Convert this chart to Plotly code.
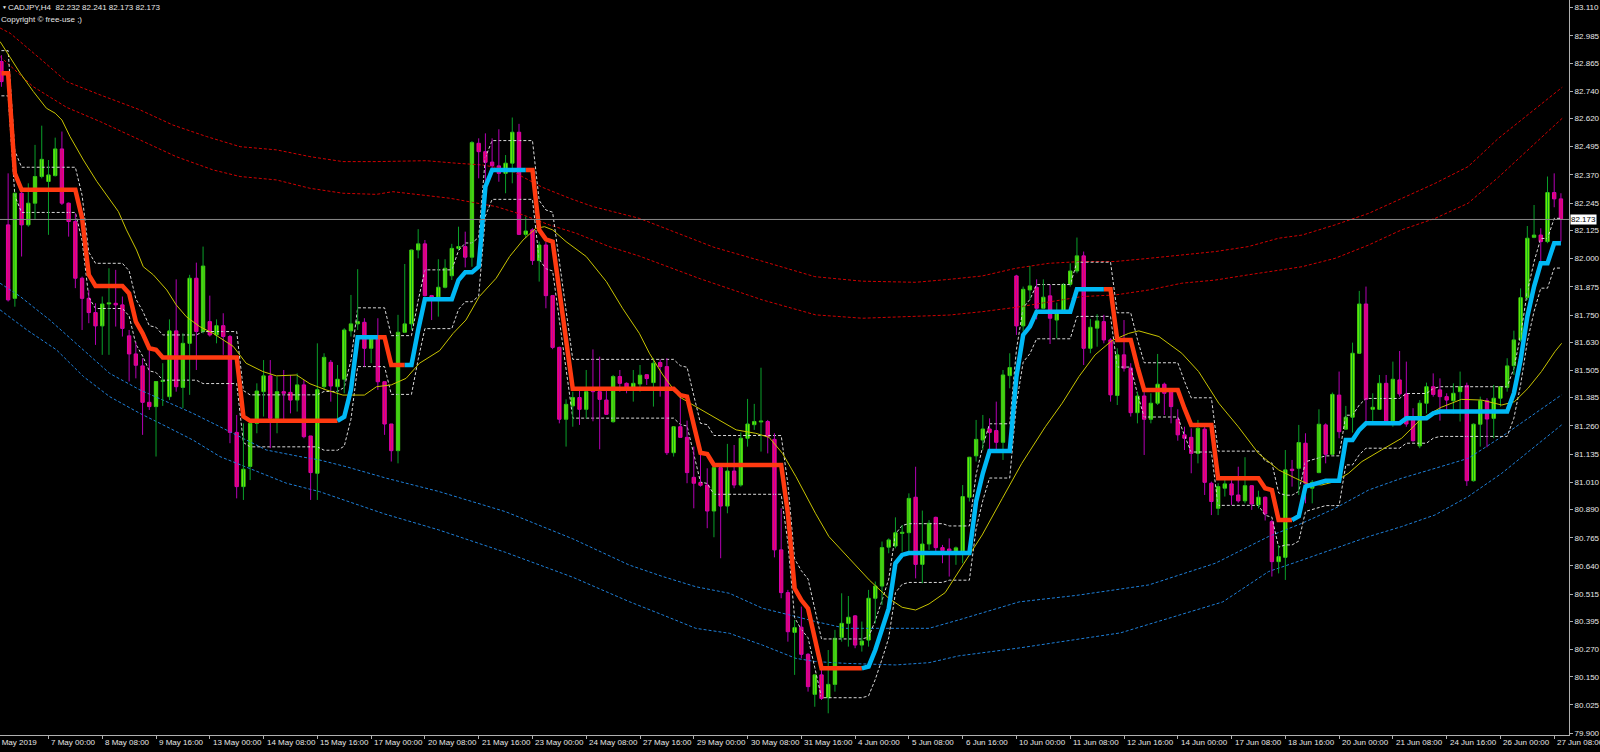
import plotly.graph_objects as go

# ---------------- data (CADJPY H4, bar index 0 = 3 May 2019 20:00) ----------------
open_ = [82.872,82.149,81.824,82.289,82.149,82.245,82.363,82.341,82.367,82.485,
         82.245,82.164,81.913,81.824,81.761,81.702,81.799,81.802,81.795,81.658,
         81.578,81.525,81.364,81.345,81.456,81.389,81.680,81.430,81.625,81.913,
         81.677,81.721,81.662,81.703,81.655,81.231,80.991,81.080,81.271,81.411,
         81.481,81.293,81.411,81.408,81.374,81.441,81.215,81.050,81.433,81.541,
         81.433,81.466,81.680,81.711,81.718,81.603,81.655,81.455,81.268,81.150,
         81.674,81.711,82.038,82.065,81.836,81.829,81.873,81.924,82.045,82.053,
         82.006,82.510,82.473,82.427,82.410,82.377,82.422,82.559,82.107,82.127,
         81.991,82.060,81.836,81.607,81.289,81.348,81.385,81.333,81.419,81.411,
         81.374,81.278,81.478,81.448,81.426,81.445,81.486,81.451,81.540,81.522,
         81.141,81.256,81.209,81.032,81.009,80.998,80.883,81.075,80.905,81.060,
         80.998,81.205,81.265,81.277,81.279,81.200,80.711,80.522,80.346,80.369,
         80.249,80.072,80.158,80.057,80.116,80.324,80.386,80.419,80.290,80.312,
         80.497,80.551,80.723,80.728,80.784,80.787,80.944,80.647,80.737,80.855,
         80.721,80.715,80.700,80.696,80.944,81.127,81.197,81.246,81.239,81.187,
         81.482,81.923,81.702,81.861,81.873,81.780,81.835,81.728,81.770,81.886,
         81.945,82.012,81.603,81.692,81.721,81.640,81.394,81.574,81.515,81.318,
         81.392,81.289,81.360,81.444,81.411,81.289,81.220,81.209,81.138,81.245,
         81.006,80.895,80.984,81.003,80.954,80.928,80.995,80.910,80.944,80.836,
         80.659,80.678,81.068,81.072,81.183,80.984,81.053,81.264,81.134,81.396,
         81.245,81.298,81.581,81.799,81.333,81.333,81.448,81.271,81.463,81.401,
         81.301,81.171,81.360,81.433,81.419,81.389,81.371,81.411,81.438,81.017,
         81.267,81.371,81.293,81.382,81.430,81.526,81.640,81.827,82.094,82.104,
         82.075,82.292,82.264]
high = [82.900,82.377,82.292,82.296,82.333,82.503,82.588,82.436,82.535,82.562,
        82.248,82.200,81.920,81.861,81.802,81.832,81.957,81.950,81.832,81.684,
        81.632,81.559,81.603,81.456,81.537,81.731,81.908,81.669,81.928,81.982,
        82.053,81.836,81.731,81.758,81.662,81.308,81.271,81.279,81.448,81.551,
        81.551,81.478,81.507,81.485,81.492,81.463,81.215,81.625,81.581,81.551,
        81.529,81.692,81.839,81.953,81.736,81.662,81.736,81.455,81.268,81.751,
        81.976,82.038,82.130,82.082,81.839,81.997,81.997,82.065,82.141,82.119,
        82.520,82.532,82.554,82.532,82.572,82.458,82.624,82.596,82.186,82.134,
        82.075,82.075,81.839,81.610,81.377,81.411,81.426,81.507,81.598,81.566,
        81.419,81.485,81.507,81.452,81.507,81.529,81.489,81.559,81.554,81.559,
        81.256,81.389,81.283,81.168,81.138,81.072,81.075,81.079,81.180,81.175,
        81.230,81.379,81.357,81.517,81.286,81.227,80.895,80.534,80.401,80.460,
        80.254,80.158,80.180,80.268,80.357,80.519,80.507,80.423,80.394,80.534,
        80.571,80.748,80.762,80.855,80.821,80.961,81.079,80.885,80.843,80.858,
        80.733,80.762,80.726,80.998,81.121,81.286,81.308,81.293,81.367,81.507,
        81.581,81.928,81.876,81.967,81.908,81.908,81.883,81.805,81.891,81.979,
        82.093,82.031,81.733,81.754,81.751,81.647,81.603,81.728,81.537,81.411,
        81.411,81.404,81.578,81.451,81.426,81.333,81.256,81.249,81.286,81.264,
        81.013,81.006,81.021,81.028,81.079,81.121,80.998,80.973,80.947,80.844,
        80.733,81.153,81.109,81.264,81.227,81.020,81.333,81.271,81.407,81.500,
        81.348,81.628,81.857,81.876,81.404,81.485,81.485,81.544,81.591,81.544,
        81.338,81.374,81.451,81.492,81.470,81.404,81.448,81.500,81.451,81.271,
        81.389,81.382,81.441,81.433,81.559,81.681,81.868,82.144,82.237,82.134,
        82.363,82.377,82.289]
low = [82.760,81.810,81.787,82.009,82.141,82.171,82.355,82.105,82.363,82.237,
       82.097,81.869,81.684,81.714,81.618,81.574,81.574,81.699,81.655,81.456,
       81.470,81.220,81.330,81.124,81.348,81.374,81.411,81.338,81.397,81.507,
       81.669,81.655,81.625,81.574,81.183,80.939,80.932,81.020,81.227,81.301,
       81.161,81.227,81.286,81.315,81.323,81.205,80.932,80.932,81.419,81.367,
       81.286,81.404,81.655,81.684,81.522,81.537,81.419,81.220,81.102,81.094,
       81.674,81.684,82.001,81.832,81.728,81.743,81.868,81.905,82.038,81.961,
       81.964,82.355,82.340,82.377,82.340,82.289,82.333,82.104,82.090,81.972,
       81.898,81.780,81.599,81.271,81.168,81.256,81.264,81.293,81.280,81.156,
       81.308,81.274,81.411,81.404,81.367,81.411,81.441,81.345,81.389,81.131,
       81.124,81.209,81.006,80.895,80.991,80.807,80.767,80.674,80.873,80.984,
       80.991,81.168,81.242,81.146,81.138,80.678,80.497,80.305,80.158,80.231,
       80.084,80.017,80.047,79.988,80.084,80.305,80.283,80.276,80.261,80.283,
       80.386,80.467,80.696,80.718,80.703,80.696,80.585,80.563,80.711,80.703,
       80.652,80.593,80.645,80.652,80.925,81.102,81.153,81.146,81.153,81.109,
       81.426,81.662,81.677,81.817,81.731,81.776,81.622,81.647,81.765,81.876,
       81.935,81.529,81.581,81.610,81.625,81.367,81.352,81.500,81.301,81.271,
       81.131,81.271,81.352,81.308,81.271,81.194,81.153,81.050,81.094,80.954,
       80.865,80.865,80.947,80.910,80.920,80.917,80.888,80.895,80.841,80.593,
       80.607,80.578,80.991,80.954,80.917,80.917,81.050,81.094,81.131,81.205,
       81.242,81.230,81.581,81.279,81.279,81.330,81.271,81.256,81.389,81.256,
       81.190,81.161,81.315,81.389,81.283,81.330,81.315,81.279,80.994,81.013,
       81.168,81.165,81.205,81.345,81.411,81.485,81.632,81.817,82.090,81.986,
       82.068,82.227,82.075]
close = [82.783,81.817,82.289,82.149,82.245,82.363,82.439,82.370,82.485,82.245,
         82.164,81.913,81.824,81.761,81.702,81.799,81.804,81.795,81.691,81.578,
         81.528,81.364,81.345,81.456,81.460,81.680,81.433,81.625,81.913,81.677,
         81.967,81.662,81.703,81.655,81.231,80.991,81.068,81.271,81.414,81.481,
         81.293,81.411,81.404,81.374,81.441,81.212,81.053,81.420,81.563,81.436,
         81.466,81.684,81.711,81.721,81.603,81.655,81.455,81.268,81.150,81.674,
         81.711,82.038,82.065,81.836,81.829,81.873,81.957,82.045,82.053,82.006,
         82.513,82.473,82.426,82.411,82.377,82.422,82.559,82.107,82.122,81.991,
         82.060,81.836,81.607,81.289,81.355,81.385,81.333,81.411,81.411,81.377,
         81.311,81.478,81.448,81.426,81.448,81.484,81.469,81.537,81.522,81.141,
         81.256,81.209,81.053,81.006,80.997,80.883,81.075,80.905,81.060,80.998,
         81.205,81.268,81.279,81.280,81.212,80.711,80.522,80.349,80.367,80.249,
         80.106,80.158,80.054,80.116,80.320,80.386,80.413,80.290,80.308,80.497,
         80.551,80.721,80.755,80.787,80.789,80.939,80.647,80.737,80.829,80.721,
         80.708,80.700,80.720,80.947,81.121,81.200,81.246,81.231,81.187,81.485,
         81.518,81.702,81.864,81.879,81.780,81.829,81.736,81.758,81.886,81.945,
         82.012,81.603,81.696,81.724,81.640,81.397,81.574,81.515,81.318,81.392,
         81.289,81.360,81.444,81.404,81.345,81.220,81.205,81.138,81.249,81.010,
         80.925,80.991,81.003,80.954,80.928,80.995,80.914,80.944,80.870,80.659,
         80.681,81.065,81.062,81.186,81.006,81.010,81.267,81.134,81.399,81.234,
         81.298,81.581,81.799,81.377,81.342,81.448,81.279,81.466,81.401,81.268,
         81.194,81.360,81.433,81.399,81.389,81.374,81.404,81.433,81.017,81.267,
         81.371,81.290,81.382,81.433,81.525,81.640,81.827,82.090,82.104,82.075,
         82.292,82.264,82.173]

# step-trend line, stored as (value, number of bars)
trend_line_runs = [(82.82,2),(82.377,1),(82.304,9),(82.18,1),(81.928,1),(81.879,5),(81.846,1),
    (81.721,1),(81.669,1),(81.603,1),(81.596,1),(81.562,12),(81.301,1),(81.282,14),(81.30,1),
    (81.419,1),(81.652,5),(81.529,4),(81.684,1),(81.820,5),(81.905,1),(81.939,2),(81.964,1),
    (82.318,1),(82.392,7),(82.127,1),(82.085,1),(82.075,1),(81.858,1),(81.643,1),(81.424,16),
    (81.396,1),(81.389,1),(81.264,1),(81.141,1),(81.135,1),(81.087,11),(80.873,1),(80.541,1),
    (80.489,1),(80.452,1),(80.320,1),(80.187,7),(80.195,1),(80.268,1),(80.357,1),(80.452,1),
    (80.652,1),(80.689,1),(80.697,10),(80.925,1),(81.050,1),(81.149,4),(81.478,1),(81.662,1),
    (81.699,1),(81.765,6),(81.864,6),(81.640,3),(81.522,1),(81.419,6),(81.337,1),(81.264,4),
    (81.028,7),(80.984,1),(80.976,1),(80.843,3),(80.86,1),(80.991,1),(81.000,1),(81.009,1),
    (81.017,3),(81.197,2),(81.242,1),(81.271,6),(81.293,4),(81.315,1),(81.323,11),(81.404,1),
    (81.551,1),(81.743,1),(81.876,1),(81.979,2),(82.068,2)]
# direction of the step-trend line: -1 down (red), +1 up (blue)
trend_dir_runs = [(-1,51),(1,6),(-1,4),(1,18),(-1,50),(1,36),(-1,28),(1,40)]
# half width of the dashed channel around the step-trend line
channel_half_runs = [(0.10,30),(0.115,18),(0.13,93),(0.12,50),(0.11,42)]

# moving average (yellow) read points
ma_x = [-0.2,2.8,4.75,6.7,8,9,10.2,12.2,14.2,16.1,17.4,18.6,20.1,21.1,22.6,24.6,26,27.5,29.5,31.5,
        34.5,36.4,38.9,40.9,43.9,45.9,48.3,50.8,54,55.8,58,60.2,62.2,65.2,67.2,69.1,71.1,73.6,75.6,
        77.6,79.5,80.8,82,84,87,90,92.4,94.9,96.4,98.4,100.8,103.3,106.3,109.3,112.2,114.2,116.2,
        118.2,121.1,123.1,126.1,129.1,132,134,136,138,140.4,143.9,145.9,148.9,151.8,155.3,157.8,
        160.3,162.7,165.2,167.7,169.2,172.2,175.6,178.1,181.1,184,187,190,192.5,194.4,196.4,198.4,
        200.4,202.4,205.3,208.3,211.3,214.2,217.2,220.2,223.2,225.1,227.1,229.1,231.1,232.1]
ma_y = [82.96,82.82,82.739,82.665,82.643,82.613,82.540,82.436,82.341,82.259,82.208,82.127,82.038,
        81.964,81.928,81.861,81.795,81.743,81.699,81.669,81.611,81.537,81.500,81.481,81.485,81.446,
        81.419,81.396,81.396,81.433,81.441,81.470,81.537,81.593,81.669,81.728,81.832,81.913,82.009,
        82.082,82.134,82.141,82.127,82.075,82.009,81.898,81.780,81.669,81.581,81.485,81.389,81.345,
        81.293,81.242,81.227,81.209,81.138,81.035,80.873,80.770,80.674,80.578,80.497,80.457,80.445,
        80.472,80.522,80.681,80.777,80.939,81.094,81.256,81.360,81.478,81.574,81.637,81.669,81.680,
        81.655,81.581,81.500,81.360,81.256,81.138,81.065,81.028,81.003,80.998,81.013,81.050,81.102,
        81.153,81.205,81.293,81.342,81.377,81.374,81.352,81.367,81.426,81.500,81.588,81.625]

# upper envelope (red dotted), outer and inner
red_outer_x = [-0.2,1.3,5.7,9.7,14.7,20.6,25.5,30.5,35.5,40.9,45.9,50.8,55.8,63.2,67.6,71.6,75.6,80.5,
               84.5,88,94.9,100,106,113,121,128,136,141,145.9,150.9,155.8,160.8,165.7,170.7,175.6,
               180.6,185.5,190,193.5,198.4,203.4,208.3,213.3,218.2,222.7,232.2]
red_outer_y = [83.02,82.997,82.886,82.783,82.724,82.658,82.591,82.540,82.495,82.481,82.451,82.429,
               82.429,82.433,82.422,82.414,82.392,82.315,82.267,82.230,82.178,82.12,82.05,81.99,81.92,
               81.90,81.895,81.908,81.923,81.957,81.979,81.987,81.987,82.001,82.016,82.031,82.053,
               82.090,82.104,82.149,82.200,82.267,82.333,82.407,82.532,82.758]
red_inner_x = [-0.2,4.7,9.7,14.7,20.6,26,31.5,35.5,40.9,45.9,50.8,55.8,58.2,66.7,73.6,77.6,81.5,85.5,
               90.4,94.9,104,113.2,121.1,128.1,141,145.9,150.9,155.8,160.8,165.7,170.7,175.6,180.6,
               185.5,190,193.5,198.4,203.4,208.3,213.3,218.2,222.7,232.2]
red_inner_y = [82.894,82.761,82.669,82.606,82.525,82.451,82.392,82.363,82.348,82.311,82.289,82.284,
               82.296,82.267,82.230,82.193,82.149,82.112,82.053,82.011,81.91,81.817,81.751,81.736,
               81.750,81.765,81.784,81.809,81.832,81.839,81.861,81.891,81.905,81.928,81.950,81.964,
               82.001,82.060,82.127,82.178,82.245,82.36,82.621]
# lower envelope (blue dotted), inner and outer
blue_inner_x = [-0.2,2.8,7.2,12.2,16.1,20.6,24.6,28.5,32.5,36.4,39.4,44.4,47.3,51.3,57.3,65,75,85,
                93.4,98.4,103.3,108.3,113.2,118.2,121.1,125.6,133,138,142.4,151.4,160,170.7,180.6,
                188.5,193.5,198.4,203.4,208.3,213.3,218.2,223.2,228.1,232.1]
blue_inner_y = [81.891,81.832,81.728,81.596,81.492,81.419,81.367,81.315,81.256,81.197,81.153,81.124,
                81.109,81.079,81.028,80.97,80.88,80.76,80.644,80.593,80.548,80.519,80.453,80.416,
                80.394,80.364,80.364,80.364,80.401,80.481,80.51,80.556,80.652,80.770,80.829,80.895,
                80.976,81.028,81.072,81.116,81.212,81.315,81.397]
blue_outer_x = [-0.2,3.8,8.2,12.2,16.1,20.6,24.6,28.5,32.5,37.4,42.4,47.3,57,65,75,85,93.4,98.4,
                103.3,108.3,113.2,118.2,121.1,125.6,133,138,142.4,151.4,166.5,181.7,188.5,193.5,
                198.4,203.4,208.3,213.3,218.2,223.2,228.1,232.1]
blue_outer_y = [81.773,81.684,81.596,81.478,81.389,81.315,81.256,81.197,81.124,81.065,81.006,80.969,
                80.87,80.80,80.70,80.59,80.482,80.423,80.364,80.342,80.290,80.231,80.217,80.209,
                80.202,80.212,80.242,80.277,80.344,80.481,80.615,80.666,80.718,80.770,80.814,80.866,
                80.947,81.050,81.168,81.264]

current_price = 82.173
price_ticks = [83.110,82.985,82.865,82.740,82.620,82.495,82.370,82.245,82.125,82.000,81.875,81.750,
               81.630,81.505,81.385,81.260,81.135,81.010,80.890,80.765,80.640,80.515,80.395,80.270,
               80.150,80.025,79.900]
first_time_label = "3 May 2019"
time_tick_idx = [7,15,23,31,39,47,55,63,71,79,87,95,103,111,119,127,135,143,151,159,167,175,183,
                 191,199,207,215,223,231]
time_tick_text = ["7 May 00:00","8 May 08:00","9 May 16:00","13 May 00:00","14 May 08:00",
                  "15 May 16:00","17 May 00:00","20 May 08:00","21 May 16:00","23 May 00:00",
                  "24 May 08:00","27 May 16:00","29 May 00:00","30 May 08:00","31 May 16:00",
                  "4 Jun 00:00","5 Jun 08:00","6 Jun 16:00","10 Jun 00:00","11 Jun 08:00",
                  "12 Jun 16:00","14 Jun 00:00","17 Jun 08:00","18 Jun 16:00","20 Jun 00:00",
                  "21 Jun 08:00","24 Jun 16:00","26 Jun 00:00","27 Jun 08:00"]


def expand(runs):
    out = []
    for v, n in runs:
        out += [v] * n
    return out


n = len(close)
idx = list(range(n))
st = expand(trend_line_runs)[:n]
tdir = expand(trend_dir_runs)[:n]
half = expand(channel_half_runs)[:n]

FONT = "Liberation Sans"
TXT = "#e6e6e6"
fig = go.Figure()

# envelopes
for xs, ys, col in [(red_outer_x, red_outer_y, "#d00000"), (red_inner_x, red_inner_y, "#d00000"),
                    (blue_inner_x, blue_inner_y, "#1e7fd8"), (blue_outer_x, blue_outer_y, "#1e7fd8")]:
    fig.add_trace(go.Scatter(x=xs, y=ys, mode="lines",
                             line=dict(color=col, width=1, dash="3px,2px"), hoverinfo="skip"))

# dashed channel
fig.add_trace(go.Scatter(x=idx, y=[s + h for s, h in zip(st, half)], mode="lines",
                         line=dict(color="#d8d8d8", width=1, dash="3px,2px"), hoverinfo="skip"))
fig.add_trace(go.Scatter(x=idx, y=[s - h for s, h in zip(st, half)], mode="lines",
                         line=dict(color="#d8d8d8", width=1, dash="3px,2px"), hoverinfo="skip"))

# wicks
for sign, col in [(1, "#0aa02a"), (-1, "#b400b4")]:
    wx, wy = [], []
    for i in idx:
        bull = close[i] >= open_[i]
        if (sign == 1) == bull:
            wx += [i, i, None]
            wy += [low[i], high[i], None]
    fig.add_trace(go.Scatter(x=wx, y=wy, mode="lines", line=dict(color=col, width=1),
                             hoverinfo="skip"))

# bodies
for sign, fill, edge in [(1, "#7cff00", "#3ccf10"), (-1, "#ff0a4a", "#e000b0")]:
    bx, bb, bh = [], [], []
    for i in idx:
        bull = close[i] >= open_[i]
        if (sign == 1) == bull:
            lo_ = min(open_[i], close[i])
            hgt = max(abs(close[i] - open_[i]), 0.0045)
            bx.append(i)
            bb.append(lo_)
            bh.append(hgt)
    fig.add_trace(go.Bar(x=bx, y=bh, base=bb, width=0.5,
                         marker=dict(color=fill, line=dict(color=edge, width=1)), hoverinfo="skip"))

# moving average
fig.add_trace(go.Scatter(x=ma_x, y=ma_y, mode="lines", line=dict(color="#c8c400", width=1),
                         hoverinfo="skip"))

# step-trend line, coloured by direction
for d, col in [(-1, "#ff3a10"), (1, "#00b8f5")]:
    ys = []
    for i in idx:
        on = tdir[i] == d or (i + 1 < n and tdir[i + 1] == d)
        ys.append(st[i] if on else None)
    fig.add_trace(go.Scatter(x=idx, y=ys, mode="lines", line=dict(color=col, width=4.5),
                             connectgaps=False, hoverinfo="skip"))

# current price line
fig.add_hline(y=current_price, line=dict(color="#8a8a8a", width=1))

# x labels (left aligned after tick, MT4 style)
for ti, tt in zip(time_tick_idx, time_tick_text):
    fig.add_annotation(x=ti, y=0, xref="x", yref="paper", text=tt, showarrow=False,
                       xanchor="left", yanchor="top", xshift=1, yshift=-1,
                       font=dict(family=FONT, size=8, color=TXT))
# first label, partly cut by the left edge
fig.add_annotation(x=0, y=0, xref="paper", yref="paper", text=first_time_label, showarrow=False,
                   xanchor="left", yanchor="top", xshift=-7, yshift=-1,
                   font=dict(family=FONT, size=8, color=TXT))

# price box
fig.add_annotation(x=1, y=current_price, xref="paper", yref="y", text="82.173", showarrow=False,
                   xanchor="left", xshift=1, bgcolor="#ffffff", borderpad=0,
                   font=dict(family=FONT, size=8, color="#000000"))

# title texts
fig.add_annotation(x=0, y=1, xref="paper", yref="paper", text="▼", showarrow=False,
                   xanchor="left", yanchor="top", xshift=0, yshift=-2,
                   font=dict(family=FONT, size=5, color=TXT))
fig.add_annotation(x=0, y=1, xref="paper", yref="paper",
                   text="CADJPY,H4  82.232 82.241 82.173 82.173", showarrow=False,
                   xanchor="left", yanchor="top", xshift=6, yshift=-1,
                   font=dict(family=FONT, size=8, color=TXT))
fig.add_annotation(x=0, y=1, xref="paper", yref="paper", text="Copyright © free-use ;)",
                   showarrow=False, xanchor="left", yanchor="top", xshift=-1, yshift=-13,
                   font=dict(family=FONT, size=8, color=TXT))

fig.update_layout(
    width=1600, height=752, margin=dict(l=0, r=29, t=0, b=17),
    paper_bgcolor="#000000", plot_bgcolor="#000000", showlegend=False,
    barmode="overlay", hovermode=False,
    xaxis=dict(range=[-0.21, 233.2], showgrid=False, zeroline=False, tickvals=time_tick_idx,
               showticklabels=False, ticks="outside", ticklen=3, tickcolor="#b0b0b0",
               showline=True, linecolor="#b0b0b0", linewidth=1),
    yaxis=dict(range=[79.892, 83.144], side="right", showgrid=False, zeroline=False,
               tickvals=price_ticks, ticktext=["%.3f" % v for v in price_ticks],
               ticks="outside", ticklen=3, tickcolor="#b0b0b0", showline=True,
               linecolor="#b0b0b0", linewidth=1,
               tickfont=dict(family=FONT, size=8, color=TXT)),
)

fig.write_html("out.html", config={"displayModeBar": False},
               post_script="document.body.style.margin='0';")
